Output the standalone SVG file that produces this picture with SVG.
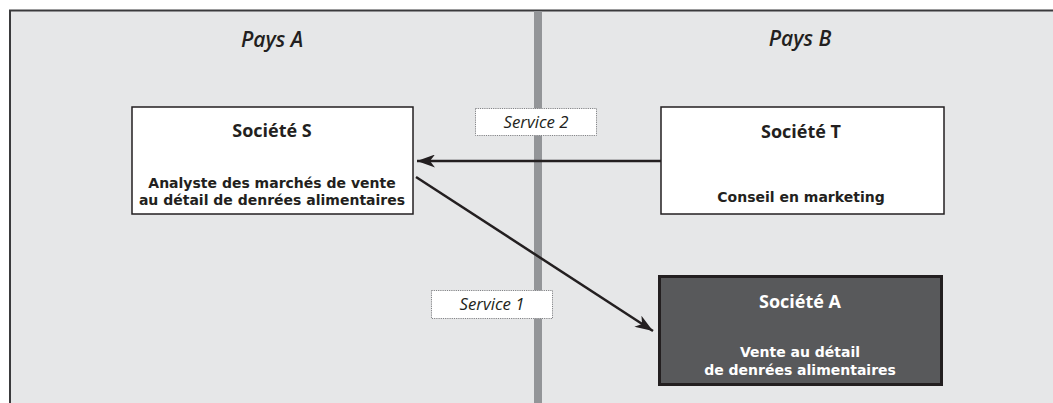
<svg xmlns="http://www.w3.org/2000/svg" width="1053" height="403" viewBox="0 0 1053 403">
  <defs>
    <marker id="head" viewBox="0 0 18 13" refX="18" refY="6.5" markerWidth="18" markerHeight="13" markerUnits="userSpaceOnUse" orient="auto">
      <path d="M0,0 L18,6.5 L0,13 L5,6.5 Z" fill="#231f20"/>
    </marker>
    <style>
      .frame { fill: #e6e7e8; stroke: #3a3a3c; stroke-width: 2; }
      .divider { stroke: #939598; stroke-width: 8; }
      .box { fill: #ffffff; stroke: #231f20; stroke-width: 1.5; }
      .dark { fill: #58595b; stroke: #231f20; stroke-width: 3; }
      .tag { fill: #ffffff; stroke: #808285; stroke-width: 1; stroke-dasharray: 1.2 1; }
      .country { font-family: "Open Sans", "Noto Sans", sans-serif; font-style: italic; font-weight: 600; font-size: 21px; fill: #231f20; text-anchor: middle; }
      .title { font-family: "Open Sans", "Noto Sans", sans-serif; font-weight: 700; font-size: 18px; fill: #231f20; text-anchor: middle; }
      .body { font-family: "DejaVu Sans", "Open Sans", sans-serif; font-weight: 700; font-size: 14px; fill: #231f20; text-anchor: middle; }
      .light { fill: #ffffff; }
      .label { font-family: "Open Sans", "Noto Sans", sans-serif; font-style: italic; font-size: 16.8px; fill: #231f20; text-anchor: middle; }
      .link { stroke: #231f20; stroke-width: 2.5; fill: none; marker-end: url(#head); }
    </style>
  </defs>

  <!-- background frame, open at right and bottom -->
  <rect x="0" y="0" width="1053" height="403" fill="#ffffff"/>
  <rect x="10" y="10.5" width="1060" height="410" class="frame"/>

  <!-- border between the two countries -->
  <line x1="538" y1="11" x2="538" y2="403" class="divider"/>

  <text x="272" y="47" class="country">Pays A</text>
  <text x="800" y="46" class="country">Pays B</text>

  <g id="connectors">
    <line x1="661" y1="161" x2="417" y2="161" class="link"/>
    <line x1="416" y1="177" x2="653" y2="331" class="link"/>
  </g>

  <g id="service2">
    <rect x="475.5" y="108.5" width="121" height="27" class="tag"/>
    <text x="536" y="128" class="label">Service 2</text>
  </g>

  <g id="service1">
    <rect x="431.5" y="290.5" width="121" height="28" class="tag"/>
    <text x="492" y="310" class="label">Service 1</text>
  </g>

  <g id="societe-s">
    <rect x="132" y="107" width="281" height="107" class="box"/>
    <text x="272" y="137" class="title">Société S</text>
    <text x="272" y="188" class="body">Analyste des marchés de vente</text>
    <text x="272" y="205" class="body">au détail de denrées alimentaires</text>
  </g>

  <g id="societe-t">
    <rect x="661" y="107" width="283" height="107" class="box"/>
    <text x="801" y="138" class="title">Société T</text>
    <text x="801" y="202" class="body">Conseil en marketing</text>
  </g>

  <g id="societe-a">
    <rect x="659.5" y="276.5" width="282" height="108" class="dark"/>
    <text x="800" y="308" class="title light">Société A</text>
    <text x="800" y="357" class="body light">Vente au détail</text>
    <text x="800" y="375" class="body light">de denrées alimentaires</text>
  </g>
</svg>
